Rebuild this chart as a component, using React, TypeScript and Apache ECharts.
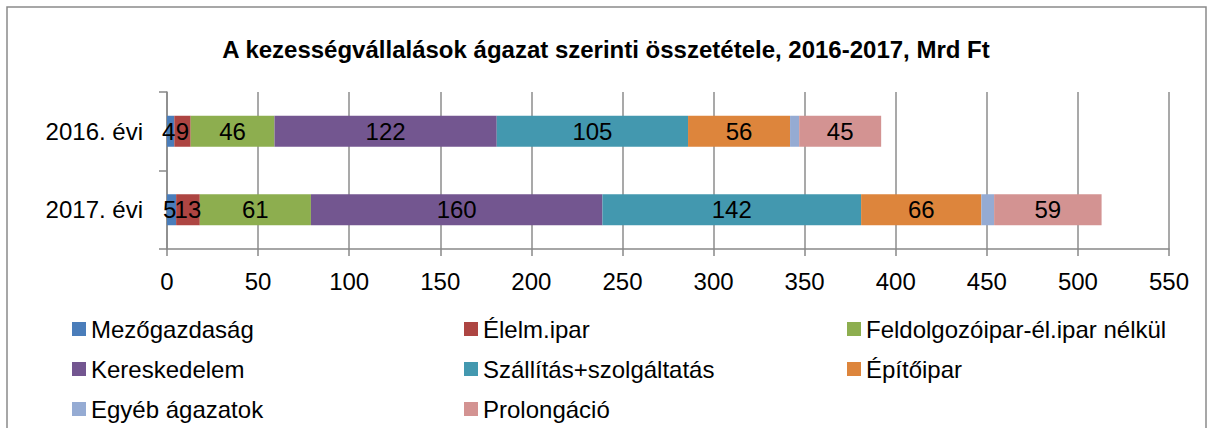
import React, { useEffect, useRef } from "react";
import * as echarts from "echarts";

const categories = ["2016. évi", "2017. évi"];
const seriesNames = [
  "Mezőgazdaság",
  "Élelm.ipar",
  "Feldolgozóipar-él.ipar nélkül",
  "Kereskedelem",
  "Szállítás+szolgáltatás",
  "Építőipar",
  "Egyéb ágazatok",
  "Prolongáció",
];
const mezogazdasag = [4, 5];
const elelmipar = [9, 13];
const feldolgozoipar = [46, 61];
const kereskedelem = [122, 160];
const szallitas = [105, 142];
const epitoipar = [56, 66];
const egyeb = [5, 7];
const prolongacio = [45, 59];
const seriesValues = [mezogazdasag, elelmipar, feldolgozoipar, kereskedelem, szallitas, epitoipar, egyeb, prolongacio];
const showLabels = [true, true, true, true, true, true, false, true];
const colors = ["#4A7DBA", "#AD4542", "#8DAE4F", "#735690", "#4398AF", "#DD853C", "#95ABD3", "#D39392"];
const legendCols = [
  ["Mezőgazdaság", "Kereskedelem", "Egyéb ágazatok"],
  ["Élelm.ipar", "Szállítás+szolgáltatás", "Prolongáció"],
  ["Feldolgozóipar-él.ipar nélkül", "Építőipar"],
];
const legendLefts = [72, 464, 847];

const FONT = "'Liberation Sans', Arial, sans-serif";

export default function App() {
  const ref = useRef<HTMLDivElement>(null);
  useEffect(() => {
    document.body.style.margin = "0";
    const chart = echarts.init(ref.current!, null, { renderer: "svg" });
    chart.setOption({
      animation: false,
      color: colors,
      textStyle: { fontFamily: FONT },
      title: {
        text: "A kezességvállalások ágazat szerinti összetétele, 2016-2017, Mrd Ft",
        left: "center",
        top: 32,
        textStyle: { fontFamily: FONT, fontSize: 24, fontWeight: "bold", color: "#000" },
      },
      graphic: [
        {
          type: "rect",
          shape: { x: 7, y: 7, width: 1199, height: 440 },
          style: { fill: "none", stroke: "#8a8a8a", lineWidth: 1.5 },
          silent: true,
        },
      ],
      legend: legendCols.map((col, i) => ({
        data: col,
        orient: "vertical",
        left: legendLefts[i],
        top: 317,
        padding: 0,
        height: 108,
        itemWidth: 14,
        itemHeight: 14,
        itemGap: 16,
        icon: "rect",
        selectedMode: false,
        textStyle: { fontFamily: FONT, fontSize: 24, color: "#000", lineHeight: 24 },
      })),
      grid: { left: 167, right: 43, top: 92, bottom: 179, containLabel: false },
      xAxis: {
        type: "value",
        min: 0,
        max: 550,
        interval: 50,
        axisLine: { show: true, lineStyle: { color: "#888", width: 1.5 } },
        axisTick: { show: true, length: 7, lineStyle: { color: "#888", width: 1.5 } },
        axisLabel: { fontFamily: FONT, fontSize: 24, color: "#000", margin: 20 },
        splitLine: { show: true, lineStyle: { color: "#8c8c8c", width: 1.5 } },
      },
      yAxis: {
        type: "category",
        data: categories,
        inverse: true,
        axisLine: { show: true, lineStyle: { color: "#888", width: 1.5 } },
        axisTick: { show: true, length: 8, lineStyle: { color: "#888", width: 1.5 } },
        axisLabel: { fontFamily: FONT, fontSize: 24, color: "#000", margin: 24 },
      },
      series: seriesNames.map((name, i) => ({
        name,
        type: "bar",
        stack: "total",
        barWidth: 31,
        data: seriesValues[i],
        label: {
          show: showLabels[i],
          position: "inside",
          offset: i === 0 ? [-2, 0] : [0, 0],
          fontFamily: FONT,
          fontSize: 24,
          color: "#000",
        },
      })),
    });
    return () => chart.dispose();
  }, []);
  return <div ref={ref} style={{ width: 1212, height: 428 }} />;
}
